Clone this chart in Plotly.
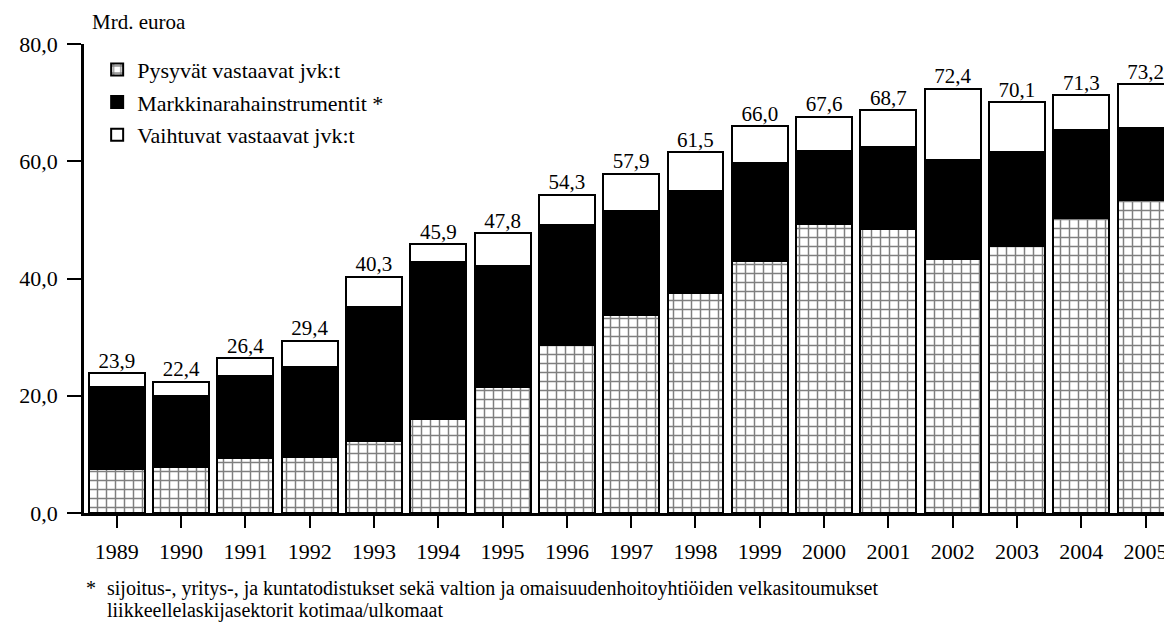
import plotly.graph_objects as go

years = ["1989", "1990", "1991", "1992", "1993", "1994", "1995", "1996", "1997",
         "1998", "1999", "2000", "2001", "2002", "2003", "2004", "2005"]
totals = [23.9, 22.4, 26.4, 29.4, 40.3, 45.9, 47.8, 54.3, 57.9, 61.5, 66.0,
          67.6, 68.7, 72.4, 70.1, 71.3, 73.2]
pysyvat = [7.5, 7.8, 9.4, 9.6, 12.3, 16.0, 21.5, 28.7, 33.8, 37.5, 43.0,
           49.3, 48.4, 43.3, 45.5, 50.3, 53.4]
markkina = [14.0, 12.2, 14.0, 15.3, 22.8, 26.8, 20.6, 20.4, 17.7, 17.4, 16.7,
            12.4, 14.0, 16.9, 16.1, 15.0, 12.3]
vaihtuvat = [round(t - p - m, 1) for t, p, m in zip(totals, pysyvat, markkina)]
ytick_vals = [0, 20, 40, 60, 80]
ytick_text = ["0,0", "20,0", "40,0", "60,0", "80,0"]

FONT = "Liberation Serif"
x = list(range(len(years)))

# page body has an 8px margin; plot area: x 84..1180 (viewport cut), y 44..513
W, H = 1172, 623
ML, MT, MB = 76, 36, 118
PW = W - ML

fig = go.Figure()
line = dict(color="black", width=2)
fig.add_trace(go.Bar(
    x=x, y=pysyvat, name="Pysyvät vastaavat jvk:t", width=0.87, legendgroup="a",
    marker=dict(color="white", line=line,
                pattern=dict(shape="+", fgcolor="black", bgcolor="white",
                             size=9, solidity=0.3, fillmode="overlay")),
))
fig.add_trace(go.Bar(
    x=x, y=markkina, name="Markkinarahainstrumentit *", width=0.87, legendgroup="b",
    marker=dict(color="black", line=line),
))
fig.add_trace(go.Bar(
    x=x, y=vaihtuvat, name="Vaihtuvat vastaavat jvk:t", width=0.87, legendgroup="c",
    marker=dict(color="white", line=line),
))
fig.add_trace(go.Scatter(
    x=x, y=totals, mode="text",
    text=[f"{t:.1f}".replace(".", ",") for t in totals],
    textposition="top center",
    textfont=dict(family=FONT, size=21, color="black"),
    showlegend=False, hoverinfo="skip", cliponaxis=False,
))

fig.update_layout(
    width=W, height=H,
    margin=dict(l=ML, r=0, t=MT, b=MB),
    paper_bgcolor="white", plot_bgcolor="white",
    barmode="stack", bargap=0.13,
    font=dict(family=FONT, color="black"),
    showlegend=True,
    legend=dict(x=0.012, y=0.99, xanchor="left", yanchor="top",
                traceorder="grouped", tracegroupgap=1, bgcolor="rgba(0,0,0,0)",
                font=dict(family=FONT, size=22, color="black")),
    xaxis=dict(range=[-0.51, -0.51 + PW / 64.3], tickmode="array", tickvals=x, ticktext=years,
               showline=True, linecolor="black", linewidth=3,
               ticks="outside", ticklen=12, tickwidth=1.5, tickcolor="black",
               ticklabelstandoff=5,
               tickfont=dict(family=FONT, size=22, color="black"),
               showgrid=False, zeroline=False),
    yaxis=dict(range=[0, 80], tickmode="array", tickvals=ytick_vals, ticktext=ytick_text,
               showline=True, linecolor="black", linewidth=2.5,
               ticks="outside", ticklen=14, tickwidth=1.5, tickcolor="black",
               ticklabelstandoff=5,
               tickfont=dict(family=FONT, size=22, color="black"),
               showgrid=False, zeroline=False),
    annotations=[
        dict(text="Mrd. euroa", xref="paper", yref="paper", x=6 / PW, y=1.0,
             yshift=22, xanchor="left", yanchor="middle", showarrow=False,
             font=dict(family=FONT, size=21, color="black")),
        dict(text="*", xref="paper", yref="paper", x=0.0, y=0.0, yshift=-75,
             xanchor="left", yanchor="middle", showarrow=False,
             font=dict(family=FONT, size=20, color="black")),
        dict(text="sijoitus-, yritys-, ja kuntatodistukset sekä valtion ja omaisuudenhoitoyhtiöiden velkasitoumukset",
             xref="paper", yref="paper", x=21 / PW, y=0.0, yshift=-75,
             xanchor="left", yanchor="middle", showarrow=False,
             font=dict(family=FONT, size=20, color="black")),
        dict(text="liikkeellelaskijasektorit kotimaa/ulkomaat",
             xref="paper", yref="paper", x=21 / PW, y=0.0, yshift=-97,
             xanchor="left", yanchor="middle", showarrow=False,
             font=dict(family=FONT, size=20, color="black")),
    ],
)

fig.write_html("out.html")
